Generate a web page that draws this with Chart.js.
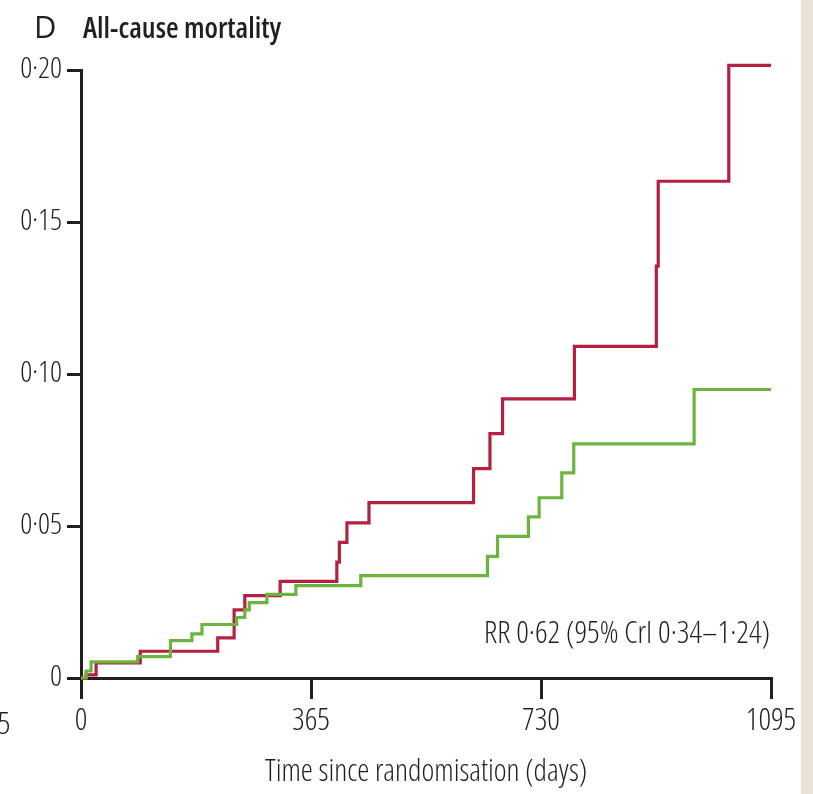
<!DOCTYPE html>
<html>
<head>
<meta charset="utf-8">
<script src="https://cdn.jsdelivr.net/npm/chart.js@4/dist/chart.umd.min.js"></script>
<style>
  html, body { margin: 0; padding: 0; background: #ffffff; }
  #wrap { position: relative; width: 813px; height: 794px; }
  canvas { display: block; }
</style>
</head>
<body>
<div id="wrap"><canvas id="km" width="813" height="794"></canvas></div>
<script>
// Cumulative all-cause mortality, step curves (days since randomisation)
const redDays  = [0, 8, 24, 94, 217, 243, 260, 316, 406, 410, 422, 457, 623, 649, 669, 783, 913, 916, 1028, 1095];
const redRisk  = [0, 0.001, 0.005, 0.0088, 0.0132, 0.0224, 0.0271, 0.0318, 0.0381, 0.0446, 0.051, 0.0577, 0.0689, 0.0804, 0.0918, 0.1091, 0.1355, 0.1634, 0.2015, 0.2015];

const greenDays = [0, 8, 16, 90, 142, 176, 192, 247, 260, 267, 295, 341, 444, 645, 661, 710, 727, 763, 782, 973, 1095];
const greenRisk = [0, 0.0023, 0.0053, 0.0070, 0.0123, 0.0145, 0.0176, 0.0199, 0.0224, 0.0248, 0.0275, 0.0304, 0.0337, 0.040, 0.0466, 0.053, 0.0593, 0.0675, 0.077, 0.0949, 0.0949];

const xTicks = [0, 365, 730, 1095];
const yTicks = [0, 0.05, 0.10, 0.15, 0.20];

const panelLetter = 'D';
const panelTitle = 'All-cause mortality';
const xTitle = 'Time since randomisation (days)';
const rrText = 'RR 0·62 (95% CrI 0·34–1·24)';
const strayLabel = '5';

const INK = '#231f20';
const RED = '#b4203f';
const GREEN = '#6cb43f';
const FONT = '"Open Sans", "DejaVu Sans Condensed", sans-serif';
const LIGHT = 'condensed 300';

const toPoints = (xs, ys) => xs.map((x, i) => ({ x: x, y: ys[i] }));
const fmtRisk = v => (Math.abs(v) < 1e-9 ? '0' : v.toFixed(2).replace('.', '·'));

const decor = {
  id: 'decor',
  beforeDraw(chart) {
    const ctx = chart.ctx;
    ctx.save();
    ctx.fillStyle = '#ffffff';
    ctx.fillRect(0, 0, chart.width, chart.height);
    ctx.fillStyle = '#e9e2d6';
    ctx.fillRect(801, 0, chart.width - 801, chart.height);
    ctx.restore();
  },
  afterDraw(chart) {
    const ctx = chart.ctx;
    const { chartArea } = chart;
    ctx.save();
    ctx.fillStyle = INK;
    ctx.textBaseline = 'alphabetic';
    ctx.textAlign = 'left';
    ctx.font = '500 31px ' + FONT;
    ctx.fillText(panelLetter, 34, 38);
    ctx.font = 'condensed 600 29px ' + FONT;
    ctx.fillText(panelTitle, 83, 38);

    ctx.font = LIGHT + ' 31px ' + FONT;
    ctx.textAlign = 'right';
    ctx.fillText(rrText, chartArea.right - 1, 643);

    ctx.textAlign = 'center';
    ctx.fillText(strayLabel, 4, 734);
    ctx.restore();
  }
};

new Chart(document.getElementById('km'), {
  type: 'line',
  data: {
    datasets: [
      {
        label: 'green',
        data: toPoints(greenDays, greenRisk),
        borderColor: GREEN,
        borderWidth: 3.2,
        stepped: true,
        pointRadius: 0,
        fill: false,
        clip: false
      },
      {
        label: 'red',
        data: toPoints(redDays, redRisk),
        borderColor: RED,
        borderWidth: 3.2,
        stepped: true,
        pointRadius: 0,
        fill: false,
        clip: false
      }
    ]
  },
  options: {
    responsive: false,
    animation: false,
    devicePixelRatio: 1,
    layout: { padding: { top: 70, right: 42, left: 0, bottom: 0 } },
    plugins: { legend: { display: false }, tooltip: { enabled: false } },
    scales: {
      x: {
        type: 'linear',
        min: 0,
        max: 1095,
        afterFit(scale) { scale.height = 116; },
        afterBuildTicks(scale) { scale.ticks = xTicks.map(v => ({ value: v })); },
        border: { display: true, color: INK, width: 3 },
        grid: { drawOnChartArea: false, drawTicks: true, tickLength: 21, tickWidth: 3, tickColor: INK, color: INK, lineWidth: 3 },
        ticks: { color: INK, font: { family: FONT, size: 31, weight: LIGHT }, padding: 4, maxRotation: 0, autoSkip: false, callback: v => String(v) },
        title: { display: true, text: xTitle, color: INK, font: { family: FONT, size: 30.5, weight: LIGHT }, padding: { top: 0, bottom: 3 } }
      },
      y: {
        type: 'linear',
        min: 0,
        max: 0.20,
        afterFit(scale) { scale.width = 81; },
        afterBuildTicks(scale) { scale.ticks = yTicks.map(v => ({ value: v })); },
        border: { display: true, color: INK, width: 3 },
        grid: { drawOnChartArea: false, drawTicks: true, tickLength: 14, tickWidth: 3, tickColor: INK, color: INK, lineWidth: 3 },
        ticks: { color: INK, font: { family: FONT, size: 29.5, weight: LIGHT }, padding: 5, callback: v => fmtRisk(v) }
      }
    }
  },
  plugins: [decor]
});
</script>
</body>
</html>
